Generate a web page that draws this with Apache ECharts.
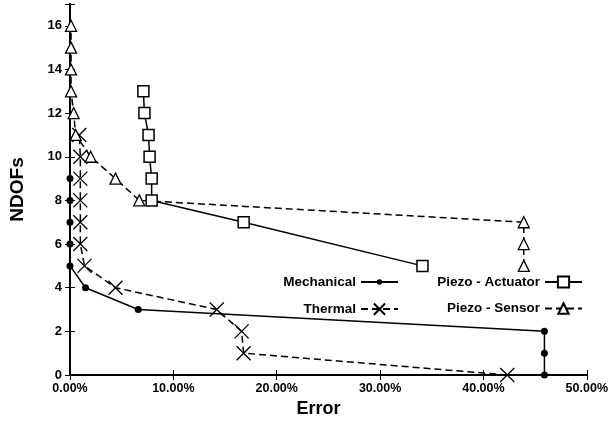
<!DOCTYPE html>
<html>
<head>
<meta charset="utf-8">
<script src="https://cdn.jsdelivr.net/npm/echarts@6/dist/echarts.min.js"></script>
<style>
  html, body { margin: 0; padding: 0; background: #fff; }
  #chart { width: 611px; height: 423px; }
</style>
</head>
<body>
<div id="chart"></div>
<script>
// NDOFs vs error, one series per physics field
const mechNdof = [0, 1, 2, 3, 4, 5, 6, 7, 8, 9];
const mechErr = [45.9, 45.9, 45.9, 6.6, 1.5, 0, 0, 0, 0, 0];

const thermNdof = [0, 1, 2, 3, 4, 5, 6, 7, 8, 9, 10, 11];
const thermErr = [42.3, 16.8, 16.6, 14.2, 4.4, 1.4, 1.0, 1.0, 1.0, 1.0, 1.0, 0.9];

const actNdof = [5, 7, 8, 9, 10, 11, 12, 13];
const actErr = [34.1, 16.8, 7.9, 7.9, 7.7, 7.6, 7.2, 7.1];

const sensNdof = [5, 6, 7, 8, 9, 10, 11, 12, 13, 14, 15, 16];
const sensErr = [43.9, 43.9, 43.9, 6.7, 4.4, 2.0, 0.55, 0.35, 0.1, 0.1, 0.1, 0.1];

const xTicks = [0, 10, 20, 30, 40, 50];

const zip = (xs, ys) => xs.map((x, i) => [x, ys[i]]);

const FONT = 'Liberation Sans, Arial, sans-serif';
const crossPath = 'path://M0 0L10 10M10 0L0 10';

var chart = echarts.init(document.getElementById('chart'));

// one legend per entry so the icons line up on the right like the original
// legend symbol is 0.8 * itemHeight, so itemHeight sets the marker size
function legendAt(name, right, top, h) {
    return {
        data: [name],
        right: right,
        top: top,
        padding: 0,
        align: 'right',
        itemWidth: 37,
        itemHeight: h,
        selectedMode: false,
        textStyle: {
            color: '#000',
            fontWeight: 'bold',
            fontSize: 13.5,
            fontFamily: FONT
        }
    };
}

const option = {
    animation: false,
    backgroundColor: '#fff',
    grid: { left: 67, right: 21, top: 4, bottom: 48 },
    legend: [
        legendAt('Mechanical', 212, 275, 7),
        legendAt('Thermal', 212, 301, 14),
        legendAt('Piezo - Actuator', 28, 275, 14),
        legendAt('Piezo - Sensor', 28, 301.5, 13)
    ],
    xAxis: [
        {
            type: 'value',
            min: xTicks[0],
            max: xTicks[xTicks.length - 1],
            interval: 10,
            name: 'Error',
            nameLocation: 'middle',
            nameGap: 17,
            nameTextStyle: {
                color: '#000', fontWeight: 'bold', fontSize: 18, fontFamily: FONT,
                padding: [0, 20, 0, 0]
            },
            axisLine: { lineStyle: { color: '#000', width: 2 } },
            axisTick: { inside: true, length: 5, lineStyle: { color: '#000' } },
            axisLabel: {
                color: '#000', fontWeight: 'bold', fontSize: 12.5, fontFamily: FONT, margin: 7,
                formatter: v => v.toFixed(2) + '%'
            },
            splitLine: { show: false }
        },
        {
            type: 'value',
            position: 'top',
            min: 0, max: 50, interval: 10,
            axisLine: { lineStyle: { color: '#000', width: 1.5 } },
            axisTick: { inside: true, length: 5, lineStyle: { color: '#000' } },
            axisLabel: { show: false },
            splitLine: { show: false }
        }
    ],
    yAxis: [
        {
            type: 'value',
            min: 0, max: 17, interval: 2,
            name: 'NDOFs',
            nameLocation: 'middle',
            nameGap: 43,
            nameTextStyle: { color: '#000', fontWeight: 'bold', fontSize: 19, fontFamily: FONT },
            axisLine: { lineStyle: { color: '#000', width: 2 } },
            axisTick: { inside: true, length: 5, lineStyle: { color: '#000' } },
            axisLabel: {
                color: '#000', fontWeight: 'bold', fontSize: 13, fontFamily: FONT, margin: 8,
                formatter: v => (v % 2 === 0 ? String(v) : '')
            },
            splitLine: { show: false }
        },
        {
            type: 'value',
            position: 'right',
            min: 0, max: 17, interval: 2,
            axisLine: { lineStyle: { color: '#000', width: 1.5 } },
            axisTick: { inside: true, length: 5, lineStyle: { color: '#000' } },
            axisLabel: { show: false },
            splitLine: { show: false }
        }
    ],
    series: [
        {
            name: 'Mechanical',
            type: 'line',
            data: zip(mechErr, mechNdof),
            clip: false,
            showAllSymbol: true,
            symbol: 'circle',
            symbolSize: 7,
            itemStyle: { color: '#000' },
            lineStyle: { color: '#000', width: 1.5 }
        },
        {
            name: 'Thermal',
            type: 'line',
            data: zip(thermErr, thermNdof),
            clip: false,
            showAllSymbol: true,
            symbol: crossPath,
            symbolSize: 14,
            itemStyle: { color: 'none', borderColor: '#000', borderWidth: 1.3 },
            lineStyle: { color: '#000', width: 1.5, type: [7, 4] }
        },
        {
            name: 'Piezo - Actuator',
            type: 'line',
            data: zip(actErr, actNdof),
            clip: false,
            showAllSymbol: true,
            symbol: 'rect',
            symbolSize: 11,
            itemStyle: { color: '#fff', borderColor: '#000', borderWidth: 1.5 },
            lineStyle: { color: '#000', width: 1.5 }
        },
        {
            name: 'Piezo - Sensor',
            type: 'line',
            data: zip(sensErr, sensNdof),
            clip: false,
            showAllSymbol: true,
            symbol: 'triangle',
            symbolSize: 11,
            itemStyle: { color: '#fff', borderColor: '#000', borderWidth: 1.3 },
            lineStyle: { color: '#000', width: 1.5, type: [7, 4] }
        }
    ]
};

chart.setOption(option);
</script>
</body>
</html>
